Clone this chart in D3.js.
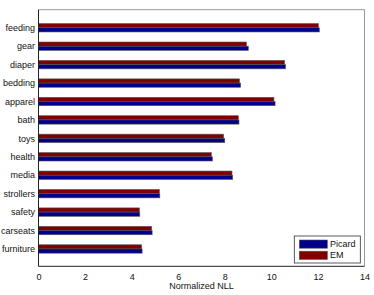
<!DOCTYPE html>
<html><head><meta charset="utf-8">
<script src="https://cdn.jsdelivr.net/npm/d3@7"></script>
<style>body{margin:0;background:#fff}svg{display:block}text{font-family:"Liberation Sans",Arial,sans-serif}</style>
</head><body><svg id="c" width="374" height="295"></svg>
<script>
const categories = ["feeding","gear","diaper","bedding","apparel","bath","toys","health","media","strollers","safety","carseats","furniture"];
const picard = [12.06,9.01,10.61,8.68,10.16,8.61,8.00,7.47,8.34,5.21,4.35,4.88,4.45];
const em     = [12.02,8.93,10.57,8.63,10.11,8.58,7.95,7.42,8.31,5.19,4.33,4.86,4.43];
const xTicks = [0,2,4,6,8,10,12,14];
const seriesNames = ["Picard","EM"];
const colors = {Picard:"#00008b", EM:"#800000"};

const svg = d3.select("#c");
const L=38.5, R=364.5, T=9.7, B=266.3;
const x = d3.scaleLinear().domain([0,14]).range([L,R]);
const y = d3.scaleLinear().domain([0.02,13.94]).range([T,B]);
const bh = 4.2;

svg.append("rect").attr("x",L).attr("y",T).attr("width",R-L).attr("height",B-T).attr("fill","#fff");

categories.forEach((c,i)=>{
  const cy = y(i+1);
  svg.append("rect").attr("x",x(0)).attr("y",cy-bh).attr("width",x(em[i])-x(0)).attr("height",bh)
    .attr("fill",colors.EM).attr("stroke","#555").attr("stroke-width",0.6);
  svg.append("rect").attr("x",x(0)).attr("y",cy).attr("width",x(picard[i])-x(0)).attr("height",bh)
    .attr("fill",colors.Picard).attr("stroke","#555").attr("stroke-width",0.6);
  svg.append("text").attr("x",L-3.5).attr("y",cy).attr("dy","0.35em").attr("text-anchor","end")
    .attr("font-size",9).attr("fill","#111").text(c);
});

// frame
svg.append("line").attr("x1",L).attr("x2",R).attr("y1",T).attr("y2",T).attr("stroke","#999");
svg.append("line").attr("x1",R).attr("x2",R).attr("y1",T).attr("y2",B).attr("stroke","#999");
svg.append("line").attr("x1",L).attr("x2",L).attr("y1",T).attr("y2",B).attr("stroke","#222");
svg.append("line").attr("x1",L).attr("x2",R).attr("y1",B).attr("y2",B).attr("stroke","#222");

const ax = svg.append("g").attr("transform",`translate(0,${B})`)
  .call(d3.axisBottom(x).tickValues(xTicks).tickSize(0).tickPadding(7).tickFormat(d3.format("d")));
ax.select(".domain").remove();
ax.selectAll("text").attr("font-size",9).attr("fill","#111").attr("font-family","Liberation Sans, Arial, sans-serif");

svg.append("text").attr("x",(L+R)/2).attr("y",289).attr("text-anchor","middle").attr("font-size",9)
  .attr("fill","#111").text("Normalized NLL");

// legend
const lg = svg.append("g");
lg.append("rect").attr("x",294.3).attr("y",236).attr("width",66).attr("height",27)
  .attr("fill","#fff").attr("stroke","#333").attr("stroke-width",0.8);
seriesNames.forEach((s,k)=>{
  const yy = 240 + k*11.2;
  lg.append("rect").attr("x",299.3).attr("y",yy).attr("width",28).attr("height",8.2)
    .attr("fill",colors[s]).attr("stroke","#555").attr("stroke-width",0.6);
  lg.append("text").attr("x",330).attr("y",yy+4.1).attr("dy","0.35em").attr("font-size",9)
    .attr("fill","#111").text(s);
});
</script></body></html>
